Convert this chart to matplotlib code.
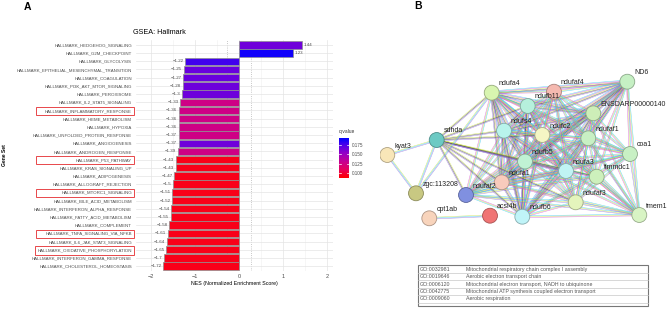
import numpy as np
import matplotlib
matplotlib.use("Agg")
import matplotlib.pyplot as plt
from matplotlib.colors import LinearSegmentedColormap, Normalize
from matplotlib.collections import LineCollection
from matplotlib.patches import Rectangle
from itertools import combinations

plt.rcParams['font.family'] = ['Liberation Sans', 'DejaVu Sans']

# ---- panel A data ----
gene_sets = [
    "HALLMARK_HEDGEHOG_SIGNALING", "HALLMARK_G2M_CHECKPOINT", "HALLMARK_GLYCOLYSIS",
    "HALLMARK_EPITHELIAL_MESENCHYMAL_TRANSITION", "HALLMARK_COAGULATION",
    "HALLMARK_PI3K_AKT_MTOR_SIGNALING", "HALLMARK_PEROXISOME", "HALLMARK_IL2_STAT5_SIGNALING",
    "HALLMARK_INFLAMMATORY_RESPONSE", "HALLMARK_HEME_METABOLISM", "HALLMARK_HYPOXIA",
    "HALLMARK_UNFOLDED_PROTEIN_RESPONSE", "HALLMARK_ANGIOGENESIS", "HALLMARK_ANDROGEN_RESPONSE",
    "HALLMARK_P53_PATHWAY", "HALLMARK_KRAS_SIGNALING_UP", "HALLMARK_ADIPOGENESIS",
    "HALLMARK_ALLOGRAFT_REJECTION", "HALLMARK_MTORC1_SIGNALING", "HALLMARK_BILE_ACID_METABOLISM",
    "HALLMARK_INTERFERON_ALPHA_RESPONSE", "HALLMARK_FATTY_ACID_METABOLISM", "HALLMARK_COMPLEMENT",
    "HALLMARK_TNFA_SIGNALING_VIA_NFKB", "HALLMARK_IL6_JAK_STAT3_SIGNALING",
    "HALLMARK_OXIDATIVE_PHOSPHORYLATION", "HALLMARK_INTERFERON_GAMMA_RESPONSE",
    "HALLMARK_CHOLESTEROL_HOMEOSTASIS",
]
nes = [1.44, 1.23, -1.22, -1.25, -1.27, -1.28, -1.3, -1.33, -1.36, -1.36, -1.36, -1.37,
       -1.37, -1.39, -1.43, -1.43, -1.47, -1.5, -1.51, -1.52, -1.54, -1.55, -1.58, -1.61,
       -1.64, -1.65, -1.7, -1.72]
qvals = [0.165, 0.19, 0.178, 0.167, 0.167, 0.166, 0.166, 0.125, 0.125, 0.125, 0.125, 0.125,
         0.165, 0.125, 0.092, 0.092, 0.092, 0.092, 0.092, 0.092, 0.092, 0.092, 0.092, 0.092,
         0.092, 0.092, 0.092, 0.092]
highlighted = ["HALLMARK_INFLAMMATORY_RESPONSE", "HALLMARK_P53_PATHWAY",
               "HALLMARK_MTORC1_SIGNALING", "HALLMARK_TNFA_SIGNALING_VIA_NFKB",
               "HALLMARK_OXIDATIVE_PHOSPHORYLATION"]
cbar_ticks = [0.100, 0.125, 0.150, 0.175]

# ---- panel B data ----
node_names = ["ndufa4", "ndufaf4", "ND6", "ndufb11", "ENSDARP00000140", "ndufs4", "ndufc2",
              "ndufaf1", "sdhda", "coa1", "kyat3", "ndufb5", "ndufa3", "timmdc1", "ndufa1",
              "zgc:113208", "ndufaf2", "ndufaf3", "tmem1", "cpt1ab", "acsl4b", "ndufb6"]
node_x = [491.7, 554, 627.3, 527.7, 593.3, 504, 542.3, 588.3, 436.7, 630, 387.3, 525, 566,
          596.7, 501.7, 416, 466, 575.7, 639.3, 429.3, 490, 522.3]
node_y = [92.7, 91.7, 81.7, 106, 113.3, 130.7, 135, 138.3, 140, 154, 155, 161.5, 171, 176.7,
          182.3, 193.3, 195, 202.3, 215, 218.3, 215.7, 216.7]
node_colors = ["#d8f5b0", "#f5b9b0", "#c6f0c4", "#b6f0dc", "#cdeeb8", "#b8f4ec", "#f4f6c4",
               "#c8f0c4", "#6ccac4", "#c8f0c4", "#f8e6b8", "#c0f2d4", "#c0f4f4", "#cdf0bc",
               "#f8cbbc", "#c8c882", "#8090e0", "#e4f4bc", "#d8f4c4", "#f8d4bc", "#f07474",
               "#c0f4f8"]
complex_i = ["ndufa4", "ndufb11", "ndufs4", "ndufc2", "ndufb5", "ndufa3", "ndufa1", "ndufb6",
             "ENSDARP00000140", "ND6"]
assembly = ["ndufaf4", "ndufaf1", "ndufaf2", "ndufaf3", "coa1", "timmdc1", "tmem1"]
sdhda_links = ["ndufa4", "ndufs4", "ndufb11", "ndufc2", "ndufb5", "ndufa1", "ndufa3",
               "ndufb6", "ndufaf2", "ndufaf3", "timmdc1"]
extra_links = [("kyat3", "zgc:113208"), ("kyat3", "sdhda"), ("zgc:113208", "sdhda"),
               ("zgc:113208", "ndufa4"), ("cpt1ab", "acsl4b")]
go_ids = ["GO:0032981", "GO:0019646", "GO:0006120", "GO:0042775", "GO:0009060"]
go_terms = ["Mitochondrial respiratory chain complex I assembly",
            "Aerobic electron transport chain",
            "Mitochondrial electron transport, NADH to ubiquinone",
            "Mitochondrial ATP synthesis coupled electron transport",
            "Aerobic respiration"]

W, H = 669, 309
fig = plt.figure(figsize=(W / 100, H / 100), dpi=100)


def px_axes(x0, y0, x1, y1):
    return fig.add_axes([x0 / W, 1 - y1 / H, (x1 - x0) / W, (y1 - y0) / H])


# ================= panel A =================
cmap = LinearSegmentedColormap.from_list(
    "q", ["#ff0000", "#e8005a", "#c8008f", "#9a00c2", "#5a00e6", "#0000ff"])
norm = Normalize(0.086, 0.194)

ax = px_axes(136, 40, 333, 271)
y = np.arange(len(gene_sets))
ax.barh(y, nes, height=0.9, color=cmap(norm(np.array(qvals))), edgecolor="#8f8f8f",
        linewidth=0.5, zorder=3)
for yi, v in zip(y, nes):
    if v > 0:
        ax.text(v + 0.04, yi, f"{v:g}", ha="left", va="center", fontsize=3.2, color="#4d4d4d")
    else:
        ax.text(v - 0.04, yi, f"\u2212{abs(v):g}", ha="right", va="center", fontsize=3.2,
                color="#4d4d4d")
ax.set_ylim(len(gene_sets) - 0.4, -0.6)
ax.set_xlim(-2.34, 2.14)
ax.set_yticks(y)
ax.set_yticklabels(gene_sets)
ax.set_xticks([-2, -1, 0, 1, 2])
ax.set_xticks([-1.5, -0.5, 0.5, 1.5], minor=True)
ax.grid(which="major", color="#e4e4e4", lw=0.5, zorder=0)
ax.grid(which="minor", axis="x", color="#f0f0f0", lw=0.4, zorder=0)
ax.axvline(-0.28, ls=":", color="#b5b5b5", lw=0.6, zorder=1)
ax.axvline(0.28, ls=":", color="#b5b5b5", lw=0.6, zorder=1)
for s in ax.spines.values():
    s.set_visible(False)
ax.tick_params(axis="y", length=0, labelsize=3.2, labelcolor="#4d4d4d", pad=3)
ax.tick_params(axis="x", which="both", length=0, labelsize=4, labelcolor="#4d4d4d", pad=2)
ax.set_xlabel("NES (Normalized Enrichment Score)", fontsize=3.8, labelpad=1.5)

fig.text(133 / W, 1 - 33 / H, "GSEA: Hallmark", fontsize=5.2, ha="left", va="center")
fig.text(5 / W, 1 - 155 / H, "Gene Set", fontsize=3.6, rotation=90, ha="center",
         va="center", fontweight="bold")
fig.text(27 / W, 1 - 7 / H, "A", fontsize=7.5, fontweight="bold", ha="center", va="center")
fig.text(418 / W, 1 - 6 / H, "B", fontsize=7.5, fontweight="bold", ha="center", va="center")

# red boxes around highlighted gene sets
fig.canvas.draw()
renderer = fig.canvas.get_renderer()
for lab in ax.get_yticklabels():
    if lab.get_text() in highlighted:
        bb = lab.get_window_extent(renderer)
        x0 = min(36, bb.x0 - 2)
        yc = (bb.y0 + bb.y1) / 2
        fig.patches.append(Rectangle((x0 / W, (yc - 4.3) / H), (134 - x0) / W, 8.6 / H,
                                     transform=fig.transFigure, fill=False,
                                     edgecolor="#e8474a", lw=0.7))

# colorbar
cax = px_axes(339, 138, 349, 178)
grad = np.linspace(0.086, 0.194, 200).reshape(-1, 1)
cax.imshow(grad, cmap=cmap, norm=norm, aspect="auto", origin="lower",
           extent=[0, 1, 0.086, 0.194])
cax.set_xticks([])
cax.yaxis.tick_right()
cax.set_yticks(cbar_ticks)
cax.set_yticklabels([f"{t:.3f}" for t in cbar_ticks])
cax.tick_params(axis="y", length=0, labelsize=3.3, labelcolor="#4d4d4d", pad=2)
for t in cbar_ticks:
    cax.plot([0, 0.2], [t, t], color="white", lw=0.5)
    cax.plot([0.8, 1], [t, t], color="white", lw=0.5)
for s in cax.spines.values():
    s.set_visible(False)
fig.text(339 / W, 1 - 132 / H, "q-value", fontsize=3.5, ha="left", va="center",
         color="#333333")

# ================= panel B =================
bx = px_axes(380, 0, 669, 309)
bx.set_xlim(380, 669)
bx.set_ylim(309, 0)
bx.axis("off")

pos = {n: (x, yy) for n, x, yy in zip(node_names, node_x, node_y)}
C_CUR, C_EXP, C_TXT, C_COEX, C_HOM = "#2cc6f0", "#d44fd0", "#c8dd3c", "#3a3a3a", "#8f6ad8"

edges = []
for a, b in combinations(complex_i, 2):
    edges.append((a, b, [C_CUR, C_EXP, C_TXT, C_COEX, C_HOM]))
for a in complex_i:
    for b in assembly:
        edges.append((a, b, [C_CUR, C_TXT, C_EXP]))
for a, b in combinations(assembly, 2):
    edges.append((a, b, [C_CUR, C_TXT, C_HOM]))
for b in sdhda_links:
    edges.append(("sdhda", b, [C_TXT, C_COEX, C_HOM]))
for a, b in extra_links:
    edges.append((a, b, [C_TXT, C_CUR, C_HOM]))

segs, cols = [], []
for a, b, kinds in edges:
    (x1, y1), (x2, y2) = pos[a], pos[b]
    d = np.hypot(x2 - x1, y2 - y1)
    nx, ny = -(y2 - y1) / d, (x2 - x1) / d
    for i, c in enumerate(kinds):
        off = (i - (len(kinds) - 1) / 2) * 0.85
        segs.append([(x1 + nx * off, y1 + ny * off), (x2 + nx * off, y2 + ny * off)])
        cols.append(c)
bx.add_collection(LineCollection(segs, colors=cols, linewidths=0.35, alpha=0.75, zorder=1))

edge_cols = [tuple(np.array(matplotlib.colors.to_rgb(c)) * 0.7) for c in node_colors]
bx.scatter(node_x, node_y, s=115, c=node_colors, edgecolors=edge_cols, linewidths=0.6,
           zorder=3)
for n, x, yy in zip(node_names, node_x, node_y):
    bx.text(x + 7, yy - 9, n, fontsize=5, ha="left", va="center", color="#222222",
            zorder=4)

# GO table
row_h = 7.4
top = 265.6
bx.add_patch(Rectangle((418, 265), 230, 41, fill=False, edgecolor="#777777", lw=0.8,
                       zorder=2))
for i, (gid, term) in enumerate(zip(go_ids, go_terms)):
    yc = top + row_h * (i + 0.5)
    bx.text(420, yc, gid, fontsize=3.8, ha="left", va="center", color="#555555")
    bx.text(466, yc, term, fontsize=3.8, ha="left", va="center", color="#555555")
    bx.plot([418, 648], [top + row_h * (i + 1)] * 2, color="#c8c8c8", lw=0.5)

fig.savefig("out.png", dpi=100)
